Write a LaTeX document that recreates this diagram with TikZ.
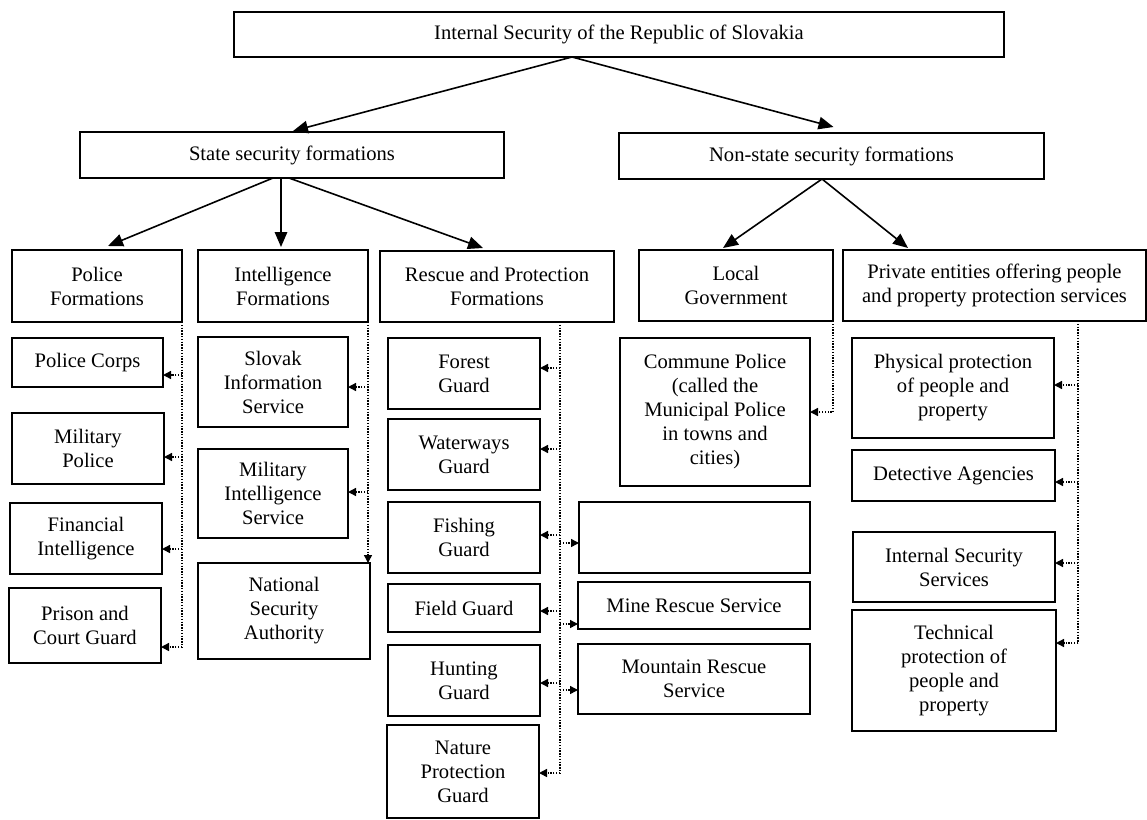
\documentclass[tikz,border=0pt]{standalone}
\usepackage{fontspec}
\setmainfont{Liberation Serif}
\usetikzlibrary{arrows.meta,calc}
\newcommand\bx[6]{\node[box, minimum width={(#4)-(#2)}, minimum height={(#5)-(#3)}] (#1) at ({((#2)+(#4))/2},{((#3)+(#5))/2}) {#6};}
\begin{document}
\begin{tikzpicture}[x=1pt,y=-1pt,
 box/.style={draw, line width=1.5pt, inner sep=0pt, outer sep=0pt, align=center, font=\fontsize{20.6}{24}\selectfont},
 mainarrow/.style={line width=1.6pt, -{Triangle[length=15pt,width=12.5pt]}},
 dotline/.style={line width=1.4pt, dash pattern=on 1.3pt off 1.5pt},
 dotarrow/.style={dotline, -{Triangle[length=8pt,width=8pt]}}]
\useasboundingbox (0,0) rectangle (1147,819);
\fill[white] (0,0) rectangle (1147,819);
% level 0-1
\bx{top}{234}{12}{1004}{57}{Internal Security of the Republic of Slovakia}
\bx{state}{80}{132}{504}{178}{State security formations}
\bx{nonstate}{619}{133}{1044}{179}{Non-state security formations}
% level 2
\bx{police}{12}{250}{182}{322}{Police\\Formations}
\bx{intel}{198}{250}{368}{322}{Intelligence\\Formations}
\bx{rescue}{380}{251}{614}{322}{Rescue and Protection\\Formations}
\bx{local}{639}{250}{833}{321}{Local\\Government}
\bx{private}{843}{250}{1146}{321}{Private entities offering people\\and property protection services}
% police column
\bx{corps}{12}{338}{163}{387}{Police Corps}
\bx{milpol}{12}{413}{164}{484}{Military\\Police}
\bx{fin}{10}{503}{162}{574}{Financial\\Intelligence}
\bx{prison}{9}{588}{161}{663}{Prison and\\Court Guard}
% intelligence column
\bx{sis}{198}{337}{348}{427}{Slovak\\Information\\Service}
\bx{mis}{198}{449}{348}{538}{Military\\Intelligence\\Service}
\bx{nsa}{198}{563}{370}{659}{National\\Security\\Authority}
% rescue column
\bx{forest}{388}{338}{540}{409}{Forest\\Guard}
\bx{water}{388}{419}{540}{490}{Waterways\\Guard}
\bx{fish}{388}{502}{540}{573}{Fishing\\Guard}
\bx{empty}{579}{502}{810}{573}{}
\bx{field}{388}{584}{540}{632}{Field Guard}
\bx{mine}{578}{582}{810}{629}{Mine Rescue Service}
\bx{hunt}{388}{645}{540}{716}{Hunting\\Guard}
\bx{mount}{578}{644}{810}{714}{Mountain Rescue\\Service}
\bx{nature}{387}{725}{539}{818}{Nature\\Protection\\Guard}
% local
\bx{commune}{620}{338}{810}{486}{Commune Police\\(called the\\Municipal Police\\in towns and\\cities)}
% private column
\bx{phys}{852}{338}{1054}{438}{Physical protection\\of people and\\property}
\bx{det}{852}{450}{1055}{501}{Detective Agencies}
\bx{iss}{853}{532}{1055}{602}{Internal Security\\Services}
\bx{tech}{852}{610}{1056}{731}{Technical\\protection of\\people and\\property}

% main arrows
\draw[mainarrow] ([xshift=-47pt]top.south) -- ([xshift=1pt,yshift=1pt]state.north);
\draw[mainarrow] ([xshift=-47pt]top.south) -- ([xshift=2pt,yshift=6pt]nonstate.north);
\draw[mainarrow] ([xshift=-19pt]state.south) -- ([xshift=11pt,yshift=4pt]police.north);
\draw[mainarrow] ([xshift=-11pt]state.south) -- ([xshift=-2pt,yshift=3pt]intel.north);
\draw[mainarrow] ([xshift=-3pt]state.south) -- ([xshift=-14pt,yshift=3pt]rescue.north);
\draw[mainarrow] ([xshift=-9.5pt]nonstate.south) -- ([xshift=-13pt,yshift=2pt]local.north);
\draw[mainarrow] ([xshift=-9.5pt]nonstate.south) -- ([xshift=-86.5pt,yshift=2pt]private.north);

% police dotted
\coordinate (corpsin) at (corps.east |- 0,375);
\coordinate (milpolin) at (milpol.east |- 0,457);
\coordinate (finin) at (fin.east |- 0,549);
\coordinate (prisonin) at (prison.east |- 0,647);
\draw[dotline] (police.south east) -- (police.south east |- prisonin);
\foreach \c in {corpsin,milpolin,finin,prisonin}
  \draw[dotarrow] (police.south east |- \c) -- (\c);

% intelligence dotted
\coordinate (sisin) at (sis.east |- 0,387);
\coordinate (misin) at (mis.east |- 0,492);
\draw[dotarrow] (intel.south east) -- (intel.south east |- nsa.north);
\foreach \c in {sisin,misin}
  \draw[dotarrow] (intel.south east |- \c) -- (\c);

% rescue dotted
\coordinate (rline) at ($(rescue.south west)+(180,0)$);
\coordinate (forestin) at (forest.east |- 0,368);
\coordinate (waterin) at (water.east |- 0,449);
\coordinate (fishin) at (fish.east |- 0,535);
\coordinate (fieldin) at (field.east |- 0,611);
\coordinate (huntin) at (hunt.east |- 0,683);
\coordinate (naturein) at (nature.east |- 0,773);
\coordinate (emptyin) at (empty.west |- 0,543);
\coordinate (minein) at (mine.west |- 0,624);
\coordinate (mountin) at (mount.west |- 0,690);
\draw[dotline] (rline) -- (rline |- naturein);
\foreach \c in {forestin,waterin,fishin,fieldin,huntin,naturein,emptyin,minein,mountin}
  \draw[dotarrow] (rline |- \c) -- (\c);

% local dotted
\draw[dotarrow] (local.south east) |- (commune.east);

% private dotted
\coordinate (pline) at ($(private.south west)+(235,0)$);
\coordinate (physin) at (phys.east |- 0,385);
\coordinate (detin) at (det.east |- 0,482);
\coordinate (issin) at (iss.east |- 0,563);
\coordinate (techin) at (tech.east |- 0,643);
\draw[dotline] (pline) -- (pline |- techin);
\foreach \c in {physin,detin,issin,techin}
  \draw[dotarrow] (pline |- \c) -- (\c);
\end{tikzpicture}
\end{document}
